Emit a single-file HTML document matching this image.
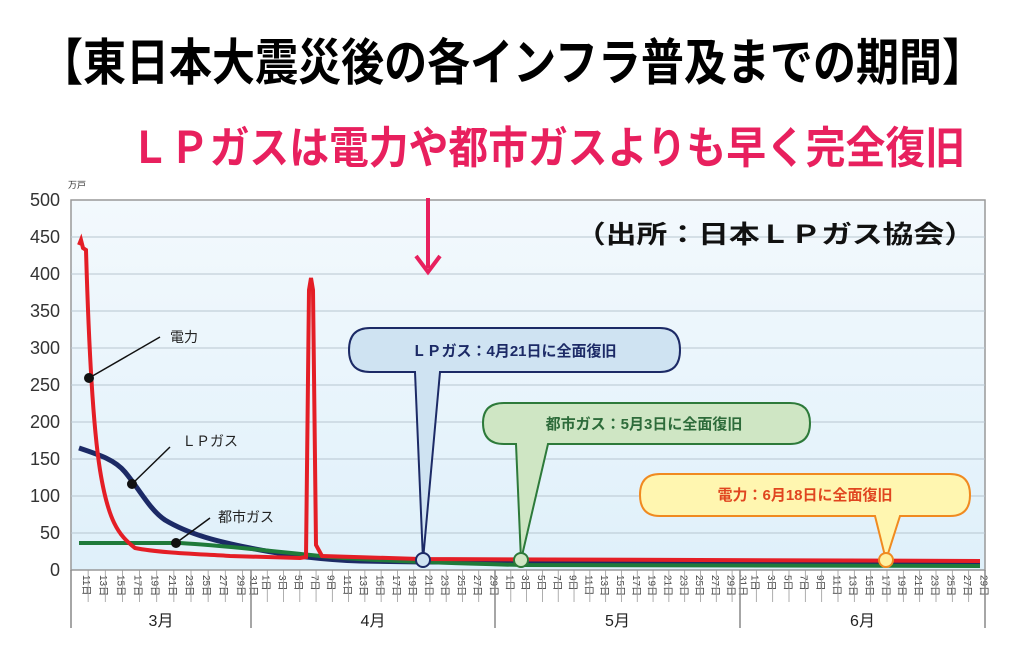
<!DOCTYPE html>
<html><head><meta charset="utf-8"><style>
html,body{margin:0;padding:0;background:#fff;}
svg{display:block;font-family:"Liberation Sans","Noto Sans CJK JP",sans-serif;}
</style></head><body>
<svg id="s" width="1024" height="667" viewBox="0 0 1024 667" xmlns="http://www.w3.org/2000/svg">
<defs>
<linearGradient id="bg" x1="0" y1="0" x2="0" y2="1"><stop offset="0" stop-color="#f3f9fd"/><stop offset="1" stop-color="#dff0fa"/></linearGradient>
</defs>
<text x="40" y="80" font-size="50" font-weight="bold" fill="#000" textLength="945" lengthAdjust="spacingAndGlyphs">【東日本大震災後の各インフラ普及までの期間】</text>
<text x="130" y="163" font-size="44" font-weight="bold" fill="#e8205e" textLength="835" lengthAdjust="spacingAndGlyphs">ＬＰガスは電力や都市ガスよりも早く完全復旧</text>
<rect x="71" y="200" width="914" height="370" fill="url(#bg)" stroke="#999" stroke-width="1.5"/>
<g id="grid" stroke="#b8c6d0" stroke-width="1"></g>
<g id="ylab" font-size="18" fill="#333" text-anchor="end"></g>
<text x="68" y="188" font-size="9" fill="#333">万戸</text>
<text x="975" y="243" font-size="25" font-weight="bold" fill="#111" text-anchor="end" textLength="400" lengthAdjust="spacingAndGlyphs">（出所：日本ＬＰガス協会）</text>
<line x1="428" y1="198" x2="428" y2="268" stroke="#e8205e" stroke-width="4"/>
<polyline points="416,256 428,272 440,256" fill="none" stroke="#e8205e" stroke-width="4"/>
<path d="M79,448 C100,455 115,460 125,472 C140,490 150,510 165,520 C190,535 220,542 250,548 C290,556 330,560 360,561 L423,562 L980,563" fill="none" stroke="#1c2a66" stroke-width="5"/>
<path d="M79,543 L180,543 C230,546 280,552 330,557 C380,561 440,563 521,565 L980,566" fill="none" stroke="#1f7a3a" stroke-width="4"/>
<path d="M79,245 L81,240 L83,248 L86,250 C88,320 92,420 100,470 C108,520 118,535 135,548 C160,553 200,554 230,556 L300,558 L306,557 L309,290 L311,278 L313,290 L316,545 L322,556 L420,559 L980,561" fill="none" stroke="#e41e26" stroke-width="4"/>
<line x1="89" y1="378" x2="160" y2="337" stroke="#111" stroke-width="1.5"/><circle cx="89" cy="378" r="5" fill="#111"/>
<text x="170" y="342" font-size="14" fill="#222">電力</text>
<line x1="132" y1="484" x2="170" y2="447" stroke="#111" stroke-width="1.5"/><circle cx="132" cy="484" r="5" fill="#111"/>
<text x="182" y="446" font-size="14" fill="#222">ＬＰガス</text>
<line x1="176" y1="543" x2="210" y2="518" stroke="#111" stroke-width="1.5"/><circle cx="176" cy="543" r="5" fill="#111"/>
<text x="218" y="522" font-size="14" fill="#222">都市ガス</text>
<path d="M370,328 H660 Q680,328 680,350 Q680,372 660,372 H440 L423,560 L415,372 H370 Q349,372 349,350 Q349,328 370,328 Z" fill="#cfe3f2" stroke="#1c2a66" stroke-width="2"/>
<circle cx="423" cy="560" r="7" fill="#cfe3f2" stroke="#1c2a66" stroke-width="2"/>
<text x="514" y="356" font-size="15" font-weight="bold" fill="#1c2a66" text-anchor="middle">ＬＰガス：4月21日に全面復旧</text>
<path d="M504,403 H790 Q810,403 810,423 Q810,444 790,444 H548 L521,560 L516,444 H504 Q483,444 483,423 Q483,403 504,403 Z" fill="#cfe6c4" stroke="#2d7a3a" stroke-width="2"/>
<circle cx="521" cy="560" r="7" fill="#cfe6c4" stroke="#2d7a3a" stroke-width="2"/>
<text x="644" y="429" font-size="15" font-weight="bold" fill="#2d6b3a" text-anchor="middle">都市ガス：5月3日に全面復旧</text>
<path d="M660,474 H950 Q970,474 970,495 Q970,516 950,516 H900 L886,560 L875,516 H660 Q640,516 640,495 Q640,474 660,474 Z" fill="#fff6b0" stroke="#f08a20" stroke-width="2"/>
<circle cx="886" cy="560" r="7" fill="#fff0a0" stroke="#f08a20" stroke-width="2"/>
<text x="805" y="500" font-size="15" font-weight="bold" fill="#e0451f" text-anchor="middle">電力：6月18日に全面復旧</text>
<g id="xax"></g>
</svg>
<script>
var NS="http://www.w3.org/2000/svg";
function el(p,t,a,txt){var e=document.createElementNS(NS,t);for(var k in a)e.setAttribute(k,a[k]);if(txt)e.textContent=txt;document.getElementById(p).appendChild(e);return e;}
for(var v=0;v<=500;v+=50){var y=570-v*0.74;if(v>0&&v<500)el("grid","line",{x1:71,x2:985,y1:y,y2:y});el("ylab","text",{x:60,y:y+6},String(v));}
var months=[[11,31],[1,30],[1,31],[1,30]];
var bounds=[71,251,495,740,985];
for(var m=0;m<4;m++){var n=months[m][1]-months[m][0]+1;var W=(bounds[m+1]-bounds[m])/n;var k=0;
 for(var d=months[m][0];d<=months[m][1];d++){
 var xs=bounds[m]+k*W;
 if(d%2==1){el("xax","line",{x1:xs,x2:xs,y1:570,y2:602,stroke:"#999","stroke-width":0.8});
  var cx=(d==months[m][1])?xs+W*0.5:xs+W;
  el("xax","text",{x:0,y:0,transform:"translate("+(cx+3.5)+",575) rotate(90)","font-size":10,fill:"#444"},d+"日");}
 k++;}}
for(var i=0;i<bounds.length;i++)el("xax","line",{x1:bounds[i],x2:bounds[i],y1:570,y2:628,stroke:"#888","stroke-width":1.5});
var ml=["3月","4月","5月","6月"];
for(var i=0;i<4;i++)el("xax","text",{x:(bounds[i]+bounds[i+1])/2,y:626,"font-size":16,fill:"#222","text-anchor":"middle"},ml[i]);
</script>
</body></html>
